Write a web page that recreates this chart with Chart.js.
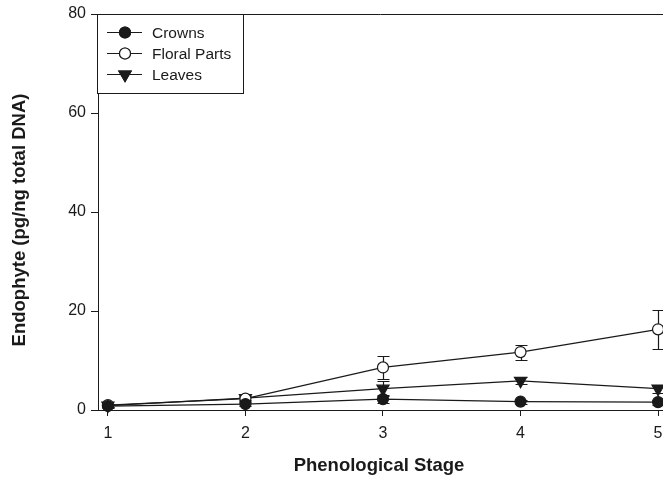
<!DOCTYPE html>
<html>
<head>
<meta charset="utf-8">
<script src="https://cdn.jsdelivr.net/npm/chart.js@4.4.1/dist/chart.umd.min.js"></script>
<style>
  html, body { margin: 0; padding: 0; background: #fff; }
  #wrap { width: 663px; height: 480px; position: relative; }
</style>
</head>
<body>
<div id="wrap"><canvas id="endophyte-chart" width="663" height="480"></canvas></div>
<script>
  'use strict';

  var stages = [1, 2, 3, 4, 5];
  var yTicks = [0, 20, 40, 60, 80];

  var crowns = [0.8, 1.2, 2.2, 1.7, 1.6];
  var crownsErr = [0.3, 0.4, 0.8, 0.4, 0.5];
  var floral = [1.0, 2.3, 8.6, 11.7, 16.3];
  var floralErr = [0.3, 0.4, 2.4, 1.5, 4.0];
  var leaves = [0.9, 2.4, 4.3, 5.9, 4.3];
  var leavesErr = [0.3, 0.4, 1.5, 0.7, 0.8];

  var FONT = 'Liberation Sans, Arial, Helvetica, sans-serif';
  var INK = '#1a1a1a';

  function points(values) {
    return stages.map(function (s, i) { return { x: s, y: values[i] }; });
  }

  function series(label, values, errs, style, fill, radius, rotation) {
    return {
      label: label,
      data: points(values),
      errors: errs,
      borderColor: INK,
      borderWidth: 1.2,
      pointStyle: style,
      pointRotation: rotation || 0,
      pointRadius: radius,
      pointBackgroundColor: fill,
      pointBorderColor: INK,
      pointBorderWidth: 1.2,
      tension: 0,
    };
  }

  // vertical error bars with caps, drawn under the markers
  var errorBars = {
    id: 'errorBars',
    beforeDatasetsDraw: function (chart) {
      var ctx = chart.ctx;
      var xs = chart.scales.x, ys = chart.scales.y;
      ctx.save();
      ctx.strokeStyle = INK;
      ctx.lineWidth = 1.2;
      chart.data.datasets.forEach(function (ds) {
        ds.data.forEach(function (p, i) {
          var e = ds.errors[i];
          var px = Math.round(xs.getPixelForValue(p.x)) + 0.5;
          var top = Math.round(ys.getPixelForValue(p.y + e)) + 0.5;
          var bot = Math.round(ys.getPixelForValue(p.y - e)) + 0.5;
          ctx.beginPath();
          ctx.moveTo(px, top); ctx.lineTo(px, bot);
          ctx.moveTo(px - 6, top); ctx.lineTo(px + 6, top);
          ctx.moveTo(px - 6, bot); ctx.lineTo(px + 6, bot);
          ctx.stroke();
        });
      });
      ctx.restore();
    },
  };

  // top frame line, axis titles and the boxed legend
  var decorations = {
    id: 'decorations',
    afterDraw: function (chart) {
      var ctx = chart.ctx;
      var a = chart.chartArea;
      ctx.save();
      ctx.strokeStyle = INK;
      ctx.lineWidth = 1;
      ctx.beginPath();
      ctx.moveTo(a.left, a.top + 0.5);
      ctx.lineTo(a.right, a.top + 0.5);
      ctx.stroke();

      ctx.fillStyle = INK;
      ctx.font = 'bold 18.5px ' + FONT;
      ctx.textAlign = 'center';
      ctx.textBaseline = 'middle';
      ctx.fillText('Phenological Stage', 379, 466);
      ctx.save();
      ctx.translate(20, 220);
      ctx.rotate(-Math.PI / 2);
      ctx.fillText('Endophyte (pg/ng total DNA)', 0, 0);
      ctx.restore();

      // legend
      var bx = 97.5, by = 14.5, bw = 146, bh = 79;
      ctx.fillStyle = '#fff';
      ctx.fillRect(bx, by, bw, bh);
      ctx.strokeRect(bx, by, bw, bh);
      ctx.font = '15.5px ' + FONT;
      ctx.textAlign = 'left';
      chart.data.datasets.forEach(function (ds, i) {
        var y = 32.5 + i * 21;
        ctx.lineWidth = 1.2;
        ctx.beginPath();
        ctx.moveTo(107, y); ctx.lineTo(142, y);
        ctx.stroke();
        Chart.helpers.drawPoint(ctx, {
          pointStyle: ds.pointStyle,
          rotation: ds.pointRotation,
          radius: ds.pointRadius,
          borderWidth: 1.2,
        }, 125, y);
        ctx.fillStyle = ds.pointBackgroundColor;
        ctx.fill();
        ctx.stroke();
        ctx.fillStyle = INK;
        ctx.fillText(ds.label, 152, y + 1);
      });
      ctx.restore();
    },
  };

  new Chart(document.getElementById('endophyte-chart').getContext('2d'), {
    type: 'line',
    data: {
      datasets: [
        series('Crowns', crowns, crownsErr, 'circle', INK, 5.5),
        series('Floral Parts', floral, floralErr, 'circle', '#fff', 5.5),
        series('Leaves', leaves, leavesErr, 'triangle', INK, 7, 180),
      ],
    },
    options: {
      responsive: false,
      animation: false,
      clip: false,
      layout: { autoPadding: false, padding: { top: 14, right: 0, left: 0, bottom: 0 } },
      plugins: { legend: { display: false }, tooltip: { enabled: false } },
      scales: {
        x: {
          type: 'linear',
          min: 0.928,
          max: 5.036,
          afterFit: function (s) { s.height = 70; s.paddingLeft = 0; s.paddingRight = 0; },
          afterBuildTicks: function (s) {
            s.ticks = stages.map(function (v) { return { value: v }; });
          },
          ticks: { color: INK, font: { family: FONT, size: 16 }, padding: 8, maxRotation: 0 },
          grid: { drawOnChartArea: false, drawTicks: true, tickLength: 6, color: INK },
          border: { display: true, color: INK, width: 1 },
        },
        y: {
          min: 0,
          max: 80,
          afterFit: function (s) { s.width = 98; s.paddingTop = 0; s.paddingBottom = 0; },
          afterBuildTicks: function (s) {
            s.ticks = yTicks.map(function (v) { return { value: v }; });
          },
          ticks: { color: INK, font: { family: FONT, size: 16 }, padding: 5 },
          grid: { drawOnChartArea: false, drawTicks: true, tickLength: 7, color: INK },
          border: { display: true, color: INK, width: 1 },
        },
      },
    },
    plugins: [errorBars, decorations],
  });
</script>
</body>
</html>
